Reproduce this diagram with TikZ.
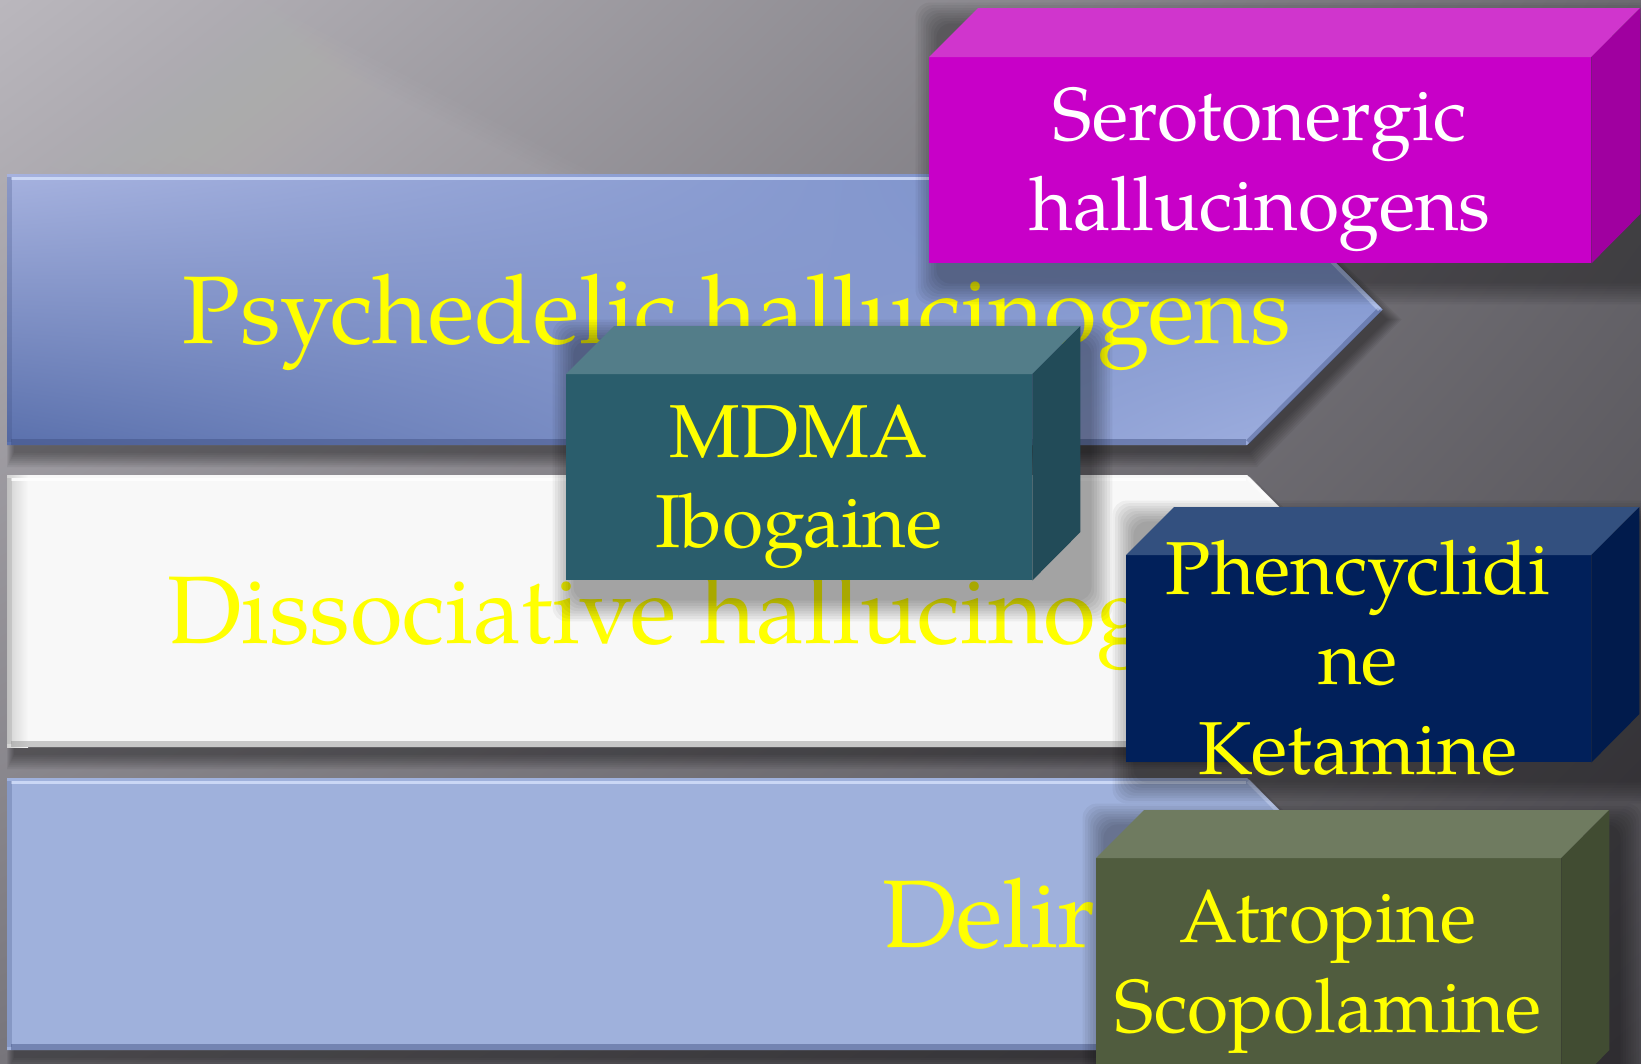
\documentclass[tikz,border=0pt]{standalone}
\usepackage{fontspec}
\setmainfont{TeX Gyre Pagella}
\usetikzlibrary{shadings}
\definecolor{bgA}{HTML}{BAB7BD}
\definecolor{bgB}{HTML}{6C6A70}
\definecolor{bgC}{HTML}{77757B}
\definecolor{bgD}{HTML}{4B494E}
\definecolor{arUL}{HTML}{A6B2DF}
\definecolor{arUR}{HTML}{7088C4}
\definecolor{arLL}{HTML}{5A70AC}
\definecolor{arLR}{HTML}{A2B2E2}
\definecolor{arLight}{HTML}{D2DEFA}
\definecolor{arDark}{HTML}{3E4E80}
\definecolor{whiteArrow}{HTML}{F8F8F8}
\definecolor{blueArrow}{HTML}{9FB1DC}
\definecolor{txtYellow}{HTML}{FFFF00}
\definecolor{seroF}{HTML}{C800C8}
\definecolor{seroT}{HTML}{D035CD}
\definecolor{seroS}{HTML}{A000A0}
\definecolor{mdmaF}{HTML}{2A5D6C}
\definecolor{mdmaT}{HTML}{537D89}
\definecolor{mdmaS}{HTML}{224B58}
\definecolor{pcpF}{HTML}{01205A}
\definecolor{pcpT}{HTML}{33507F}
\definecolor{pcpS}{HTML}{011B4C}
\definecolor{atrF}{HTML}{505C3E}
\definecolor{atrT}{HTML}{6F7B60}
\definecolor{atrS}{HTML}{414C32}
\tikzset{
  bigtext/.style={font=\fontsize{96}{115}\selectfont, text=txtYellow, inner sep=0pt, anchor=base west},
  boxtext/.style={font=\fontsize{75}{90}\selectfont, inner sep=0pt, anchor=base},
  frontface/.style={inner sep=0pt, anchor=north west, draw=none},
}
% chevron path: top, bottom
\newcommand\chevpath[2]{(7,#1) -- (1247,#1) -- ({1247+(#2-#1)/2},{(#1+#2)/2}) -- (1247,#2) -- (7,#2) -- cycle}
\newcommand\bandshadow[2]{%
  \foreach \i in {0,...,7}{%
    \fill[black,opacity=0.055] ({14-\i},{#1+14-\i}) -- ({1250+\i},{#1+14-\i}) -- ({1252+(#2-#1)/2+2*\i},{(#1+#2)/2+10}) -- ({1250+\i},{#2+8+2*\i}) -- ({14-\i},{#2+8+2*\i}) -- cycle;
  }}
\newcommand\bandbevel[4]{%
  \draw[#3, line width=3pt, opacity=.85] (11,{#1+4}) -- (1246,{#1+4});
  \draw[#4, line width=6pt, opacity=.45] (11,{#2-3}) -- (1246,{#2-3});
  \draw[#4, line width=5pt, opacity=.25] (9.5,{#1+3}) -- (9.5,{#2-3});
  \draw[#4, line width=5pt, opacity=.4] (1248,{#2-3}) -- ({1244+(#2-#1)/2},{(#1+#2)/2});
  \draw[#3, line width=4pt, opacity=.5] (1248,{#1+3}) -- ({1244+(#2-#1)/2},{(#1+#2)/2});
}
\newcommand\boxshadow[4]{%
  \foreach \i in {1,...,9}{%
    \fill[black,opacity=0.045,rounded corners=14pt] ({#1+10-\i*2.6},{#2+18-\i*2.6}) rectangle ({#3+10+\i*2.6},{#4+18+\i*2.6});
  }}
% 3D box: name, x, y, width, height, depth, front, top, side
\newcommand\cubebox[9]{%
  \node[frontface, fill=#7, minimum width=#4pt, minimum height=#5pt] (#1) at (#2,#3) {};
  \fill[#8] (#1.north west) -- ++(#6,-#6) -- ++(#4,0) -- (#1.north east) -- cycle;
  \fill[#9] (#1.north east) -- ++(#6,-#6) -- ++(0,#5) -- (#1.south east) -- cycle;
}
\begin{document}
\begin{tikzpicture}[x=1pt,y=-1pt]
\useasboundingbox (0,0) rectangle (1641,1063);
\clip (0,0) rectangle (1641,1063);
% background
\shade[upper left=bgA, upper right=bgB, lower left=bgC, lower right=bgD] (0,0) rectangle (1641,1063);
\foreach \k in {0,...,5}{%
  \fill[white,opacity=0.012] ({\k*12},0) -- ({260-\k*12},0) -- ({760-\k*20},{260-\k*6}) -- ({560+\k*10},{330-\k*8}) -- (0,{150-\k*10}) -- cycle;
}
% band shadows
\bandshadow{174}{445}
\bandshadow{475}{747}
\bandshadow{778}{1050}
% bands
\shade[upper left=arUL, upper right=arUR, lower left=arLL, lower right=arLR] \chevpath{174}{445};
\bandbevel{174}{445}{arLight}{arDark}
\fill[whiteArrow] \chevpath{475}{747};
\shade[left color=black!18, right color=whiteArrow] (7,475) rectangle (28,747);
\bandbevel{475}{747}{white}{black!45}
\fill[blueArrow] \chevpath{778}{1050};
\bandbevel{778}{1050}{arLight}{arDark}
% band texts
\node[bigtext] (psy) at (182,343) {Psychedelic hallucinogens};
\node[bigtext] (dis) at (167,643) {Dissociative hallucinogens};
\node[bigtext] (del) at (882,947) {Deliriants};
% box shadows
\boxshadow{929}{8}{1638}{263}
\boxshadow{566}{325}{1079}{580}
\boxshadow{1126}{506}{1639}{762}
\boxshadow{1096}{809}{1608}{1080}
% boxes
\cubebox{sero}{929}{57}{662}{206}{49}{seroF}{seroT}{seroS}
\cubebox{mdma}{566}{374}{466}{206}{48}{mdmaF}{mdmaT}{mdmaS}
\cubebox{pcp}{1126}{555}{465}{207}{48}{pcpF}{pcpT}{pcpS}
\cubebox{atr}{1096}{858}{465}{240}{48}{atrF}{atrT}{atrS}
% box texts
\node[boxtext, text=white] (serot) at (1260,140) {\begin{tabular}[t]{@{}c@{}}Serotonergic\\hallucinogens\end{tabular}};
\node[boxtext, text=txtYellow] (mdmat) at (799,457) {\begin{tabular}[t]{@{}c@{}}MDMA\\Ibogaine\end{tabular}};
\node[boxtext, text=txtYellow] (pcpt) at (1358,594) {\begin{tabular}[t]{@{}c@{}}Phencyclidi\\ne\\Ketamine\end{tabular}};
\node[boxtext, text=txtYellow] (atrt) at (1328,942) {\begin{tabular}[t]{@{}c@{}}Atropine\\Scopolamine\end{tabular}};
\end{tikzpicture}
\end{document}
